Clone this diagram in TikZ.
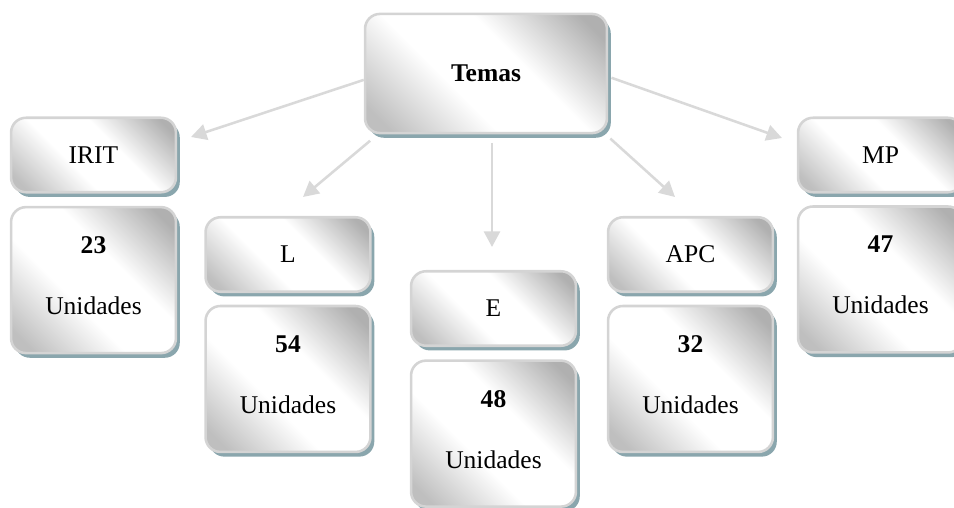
\documentclass[tikz,border=0pt]{standalone}
\usepackage{fontspec}
\setmainfont{Liberation Serif}
\usetikzlibrary{positioning,shadows,arrows.meta}

\definecolor{boxline}{RGB}{212,212,212}
\definecolor{boxshadow}{RGB}{138,166,173}
\definecolor{arrowgray}{RGB}{217,217,217}
\pgfdeclarehorizontalshading{cardshade}{100bp}{color(0bp)=(gray!50); color(20bp)=(gray!50); color(41bp)=(white); color(59bp)=(white); color(80bp)=(gray!62); color(100bp)=(gray!62)}

\begin{document}
\begin{tikzpicture}[x=0.47pt, y=-0.47pt, font=\fontsize{12}{14}\selectfont]
			% Define styles
			\tikzstyle{card} = [rectangle, rounded corners=7pt, draw=boxline, line width=1.2pt, shading=cardshade, shading angle=45, drop shadow={shadow xshift=1.8pt, shadow yshift=-2.2pt, fill=boxshadow, opacity=1}, align=center]
			\tikzstyle{titlebox} = [card, minimum width=77.5pt, minimum height=35pt]
			\tikzstyle{countbox} = [card, minimum width=77.5pt, minimum height=68.6pt]
			\tikzstyle{arrow} = [draw=arrowgray, line width=1.2pt, -{Triangle[length=7.3pt,width=7.5pt]}]

			\clip (0,0) rectangle (954,508);

			% Nodes
			\node (temas) [card, minimum width=113.7pt, minimum height=56pt] at (486,73.5) {\textbf{Temas}};

			\node (irit) [titlebox] at (93.5,155) {IRIT};
			\node (l) [titlebox] at (288,254.5) {L};
			\node (e) [titlebox] at (493.5,308.5) {E};
			\node (apc) [titlebox] at (690.5,254.5) {APC};
			\node (mp) [titlebox] at (880.5,155) {MP};

			\node (iritcount) [countbox, below=5.8pt of irit] {\textbf{23}\\[14.7pt]Unidades\strut};
			\node (lcount) [countbox, below=5.5pt of l] {\textbf{54}\\[14.7pt]Unidades\strut};
			\node (ecount) [countbox, below=5.8pt of e] {\textbf{48}\\[14.7pt]Unidades\strut};
			\node (apccount) [countbox, below=5.5pt of apc] {\textbf{32}\\[14.7pt]Unidades\strut};
			\node (mpcount) [countbox, below=5.5pt of mp] {\textbf{47}\\[14.7pt]Unidades\strut};

			% Arrow ends
			\coordinate (iritin) at (191,137);
			\coordinate (lin) at (303,197);
			\coordinate (ein) at (492,247);
			\coordinate (apcin) at (675,197);
			\coordinate (mpin) at (782,138);

			% Arrows
			\draw [arrow] ([yshift=-3pt]temas.west) -- (iritin);
			\draw [arrow] ([xshift=3pt,yshift=-3pt]temas.south west) -- (lin);
			\draw [arrow, shorten <=4pt] (temas.south -| ein) -- (ein);
			\draw [arrow] ([xshift=1pt,yshift=-2pt]temas.south east) -- (apcin);
			\draw [arrow] ([xshift=1.5pt,yshift=-2pt]temas.east) -- (mpin);
		\end{tikzpicture}
\end{document}
